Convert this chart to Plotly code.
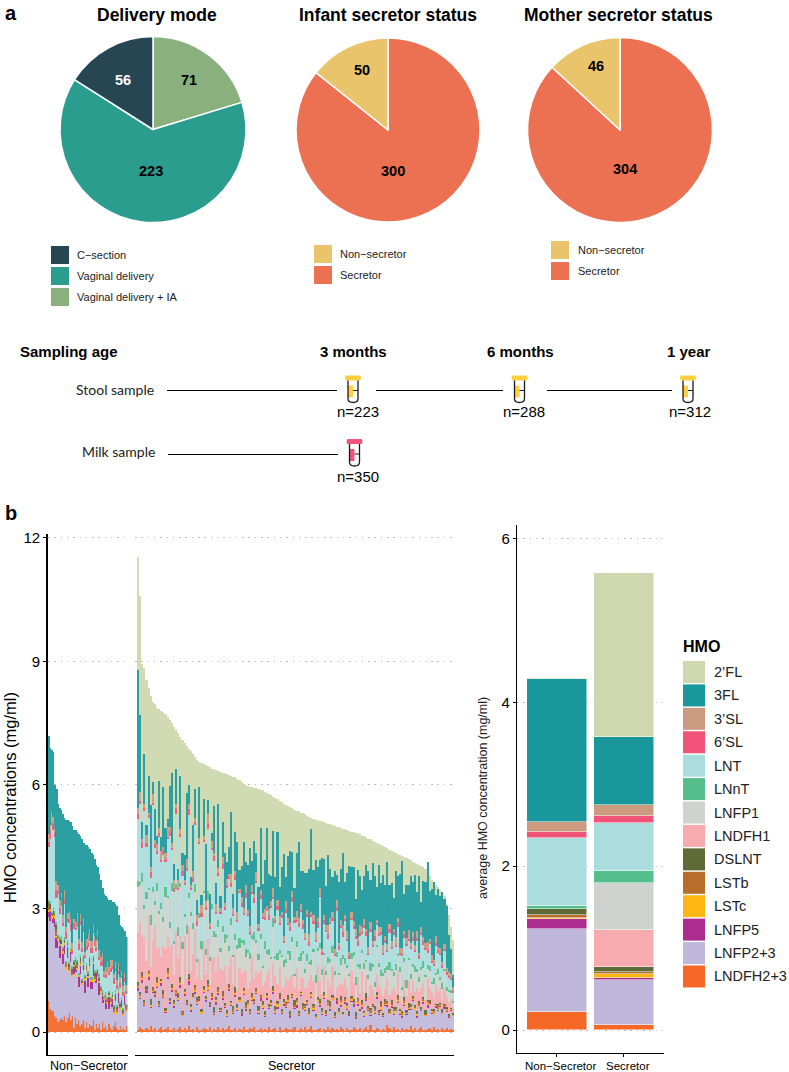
import plotly.graph_objects as go

W = 789
H = 1072
FONT = "Liberation Sans"

# pie charts
delivery_labels = ["Vaginal delivery + IA", "Vaginal delivery", "C\u2212section"]
delivery_values = [71, 223, 56]
infant_labels = ["Secretor", "Non\u2212secretor"]
infant_values = [300, 50]
mother_labels = ["Secretor", "Non\u2212secretor"]
mother_values = [304, 46]

hmo_names = ["2\u2019FL", "3FL", "3\u2019SL", "6\u2019SL", "LNT", "LNnT", "LNFP1", "LNDFH1", "DSLNT",
             "LSTb", "LSTc", "LNFP5", "LNFP2+3", "LNDFH2+3"]
hmo_colors = ["#CDD8AE", "#1A979B", "#CB9A7F", "#F25479", "#ABDDDE", "#55BF8B", "#CFD3CE", "#F7ABAE",
              "#5E6B37", "#B96D2B", "#FDB714", "#AD2C90", "#BFB8DB", "#F46724"]

# average concentration, same order as hmo_names (mg/ml)
avg_non_secretor = [0.006, 1.743, 0.13, 0.067, 0.828, 0.036, 0.003, 0.003, 0.066, 0.042, 0.012, 0.124, 1.009, 0.223]
avg_secretor = [2.005, 0.837, 0.132, 0.082, 0.592, 0.138, 0.579, 0.451, 0.064, 0.026, 0.043, 0.021, 0.558, 0.056]

# per sample values in 1/100 mg/ml
# Non-Secretor
ns_total = [720, 690, 685, 680, 600, 590, 555, 545, 540, 530,
            520, 515, 515, 512, 510, 500, 490, 490, 485, 480,
            475, 470, 460, 455, 455, 450, 445, 435, 430, 420,
            405, 400, 385, 370, 350, 335, 330, 325, 320, 320,
            315, 315, 310, 305, 285, 260, 255, 250, 245, 230]
ns_3sl = [20, 15, 25, 18, 12, 22, 15, 20, 10, 18,
          22, 12, 16, 20, 14, 18, 10, 15, 22, 12,
          18, 14, 20, 10, 16, 22, 12, 18, 15, 10,
          20, 14, 18, 12, 16, 10, 20, 14, 12, 18,
          15, 10, 16, 12, 20, 14, 10, 16, 12, 15]
ns_6sl = [12, 20, 8, 15, 10, 18, 6, 14, 20, 8,
          12, 16, 6, 10, 18, 8, 14, 6, 12, 16,
          8, 10, 15, 6, 12, 8, 16, 10, 6, 14,
          8, 12, 6, 10, 15, 6, 8, 12, 6, 10,
          8, 14, 6, 10, 7, 12, 6, 8, 10, 6]
ns_lnt = [130, 150, 210, 190, 180, 60, 100, 55, 75, 50,
          80, 55, 45, 95, 40, 30, 75, 65, 80, 55,
          75, 65, 55, 40, 30, 60, 40, 60, 55, 60,
          45, 70, 35, 50, 60, 45, 35, 60, 40, 60,
          55, 50, 45, 40, 35, 35, 45, 30, 25, 25]
ns_lnnt = [5, 8, 3, 6, 4, 7, 3, 5, 8, 4,
           6, 3, 7, 5, 4, 8, 3, 6, 4, 5,
           7, 3, 6, 4, 8, 5, 3, 7, 4, 6,
           3, 5, 8, 4, 6, 3, 5, 7, 3, 4,
           6, 3, 5, 4, 7, 3, 4, 5, 3, 3]
ns_dslnt = [8, 12, 0, 10, 0, 12, 5, 0, 11, 0,
            8, 0, 5, 7, 0, 6, 9, 0, 8, 0,
            6, 7, 0, 5, 0, 6, 8, 0, 5, 7,
            0, 5, 8, 0, 4, 0, 7, 0, 6, 0,
            5, 7, 0, 6, 0, 5, 0, 4, 0, 5]
ns_lstb = [10, 0, 7, 0, 8, 14, 0, 11, 0, 7,
           0, 12, 0, 8, 0, 7, 0, 6, 9, 0,
           7, 0, 13, 0, 10, 0, 9, 0, 6, 8,
           0, 6, 0, 7, 0, 3, 0, 6, 0, 9,
           0, 8, 0, 7, 0, 6, 0, 5, 0, 6]
ns_lstc = [5, 3, 7, 4, 6, 3, 8, 5, 3, 6,
           4, 7, 3, 5, 6, 4, 3, 7, 5, 3,
           6, 4, 3, 7, 5, 4, 6, 3, 5, 4,
           3, 6, 4, 5, 3, 2, 4, 3, 5, 3,
           4, 3, 5, 3, 4, 3, 2, 4, 3, 4]
ns_lnfp5 = [12, 25, 0, 15, 20, 25, 0, 30, 0, 25,
            22, 0, 28, 0, 25, 0, 20, 18, 0, 25,
            20, 0, 15, 28, 0, 22, 0, 18, 30, 0,
            25, 0, 30, 0, 18, 0, 25, 0, 30, 0,
            22, 0, 18, 0, 25, 0, 20, 0, 25, 0]
ns_lnfp23 = [205, 215, 225, 215, 215, 170, 195, 150, 175, 135,
             150, 125, 145, 100, 140, 95, 130, 110, 130, 80,
             125, 95, 120, 85, 120, 100, 135, 90, 105, 120,
             100, 120, 70, 90, 45, 70, 40, 65, 35, 60,
             55, 30, 50, 35, 65, 40, 55, 30, 60, 35]
ns_lndfh23 = [75, 55, 50, 50, 40, 35, 25, 30, 35, 30,
              40, 25, 35, 45, 30, 40, 10, 35, 20, 30,
              15, 20, 30, 10, 25, 10, 20, 15, 30, 5,
              20, 10, 20, 5, 25, 10, 15, 5, 20, 10,
              5, 15, 25, 10, 5, 15, 5, 10, 5, 15]

# Secretor
s_total = [1153, 1060, 895, 884, 855, 835, 815, 802, 797, 788,
           784, 780, 777, 772, 766, 758, 750, 741, 733, 726,
           716, 709, 703, 694, 688, 682, 676, 668, 661, 657,
           654, 651, 648, 645, 643, 640, 638, 636, 634, 632,
           630, 628, 626, 624, 622, 620, 619, 615, 612, 608,
           602, 600, 598, 596, 594, 593, 592, 590, 589, 587,
           584, 581, 578, 575, 572, 569, 566, 562, 558, 555,
           552, 549, 546, 543, 540, 538, 536, 533, 531, 529,
           525, 522, 520, 518, 516, 514, 513, 512, 510, 508,
           506, 505, 503, 501, 499, 497, 495, 494, 492, 490,
           489, 487, 486, 484, 483, 480, 477, 475, 473, 470,
           468, 465, 462, 460, 457, 455, 452, 450, 447, 443,
           440, 437, 435, 432, 430, 427, 425, 422, 420, 417,
           414, 411, 409, 406, 403, 400, 397, 390, 380, 370,
           364, 358, 352, 345, 338, 330, 310, 285, 255, 223]
s_3fl = [335, 188, 40, 120, 25, 90, 150, 30, 75, 20,
         115, 35, 145, 60, 20, 100, 170, 40, 85, 25,
         130, 30, 60, 160, 45, 20, 110, 70, 35, 125,
         25, 90, 140, 35, 70, 20, 115, 50, 155, 30,
         85, 120, 40, 65, 150, 35, 95, 170, 45, 75,
         160, 55, 110, 190, 60, 130, 45, 90, 150, 70,
         120, 190, 85, 60, 140, 95, 165, 70, 110, 200,
         60, 150, 175, 95, 70, 140, 185, 80, 120, 145,
         90, 160, 200, 110, 175, 125, 70, 220, 135, 95,
         170, 120, 85, 190, 60, 150, 125, 175, 80, 140,
         210, 110, 130, 75, 165, 120, 90, 105, 155, 185,
         100, 190, 130, 80, 150, 105, 170, 125, 200, 95,
         140, 75, 160, 100, 180, 210, 90, 130, 110, 165,
         120, 170, 95, 185, 60, 135, 150, 195, 115, 160,
         190, 100, 140, 125, 170, 110, 150, 90, 60, 30]
s_3sl = [15, 20, 8, 12, 18, 6, 14, 22, 9, 16,
         11, 20, 7, 15, 24, 10, 13, 18, 8, 21,
         12, 16, 9, 23, 14, 7, 19, 11, 15, 10,
         18, 8, 13, 22, 10, 16, 7, 20, 12, 9,
         17, 11, 14, 8, 21, 13, 10, 18, 7, 15,
         12, 20, 9, 14, 16, 8, 22, 11, 13, 10,
         18, 7, 15, 12, 20, 9, 14, 17, 8, 11,
         19, 13, 10, 16, 8, 22, 12, 15, 9, 14,
         11, 18, 7, 13, 20, 10, 16, 8, 14, 12,
         21, 9, 15, 11, 18, 7, 13, 16, 10, 20,
         8, 14, 12, 17, 9, 19, 11, 15, 7, 13,
         18, 10, 14, 8, 16, 12, 20, 9, 13, 11,
         15, 7, 18, 12, 10, 16, 8, 14, 20, 9,
         13, 11, 17, 7, 15, 10, 12, 18, 8, 14,
         11, 16, 9, 13, 7, 12, 10, 8, 9, 10]
s_6sl = [12, 8, 15, 5, 10, 6, 14, 4, 9, 7,
         11, 5, 13, 8, 3, 12, 6, 9, 15, 4,
         8, 11, 5, 7, 13, 4, 9, 6, 12, 3,
         10, 5, 8, 14, 4, 7, 11, 5, 9, 3,
         12, 6, 8, 4, 10, 5, 13, 7, 3, 9,
         6, 11, 4, 8, 5, 12, 3, 7, 10, 4,
         9, 5, 13, 3, 6, 8, 11, 4, 7, 5,
         10, 3, 8, 12, 4, 6, 9, 5, 11, 3,
         7, 10, 4, 8, 5, 13, 3, 6, 9, 4,
         11, 5, 7, 3, 8, 10, 4, 12, 6, 3,
         9, 5, 8, 4, 11, 6, 3, 7, 10, 4,
         8, 5, 12, 3, 6, 9, 4, 7, 5, 10,
         3, 8, 6, 11, 4, 5, 9, 3, 7, 5,
         10, 4, 6, 8, 3, 9, 5, 7, 4, 6,
         3, 8, 5, 4, 7, 3, 6, 4, 5, 4]
s_lnt = [150, 190, 60, 230, 110, 170, 90, 200, 130, 70,
         180, 100, 150, 60, 140, 210, 80, 120, 170, 90,
         110, 160, 70, 130, 190, 55, 100, 145, 80, 170,
         60, 120, 95, 150, 70, 130, 170, 50, 105, 85,
         140, 60, 115, 165, 75, 95, 130, 55, 110, 80,
         60, 125, 85, 45, 100, 70, 140, 55, 85, 115,
         50, 95, 70, 120, 45, 80, 105, 60, 90, 40,
         110, 65, 50, 85, 125, 45, 75, 100, 55, 70,
         90, 40, 105, 60, 80, 50, 115, 35, 70, 95,
         45, 85, 60, 40, 100, 55, 75, 45, 90, 60,
         35, 80, 55, 95, 45, 70, 40, 85, 60, 50,
         75, 40, 100, 50, 65, 85, 45, 60, 35, 70,
         50, 90, 40, 65, 30, 75, 50, 85, 40, 60,
         55, 35, 70, 45, 80, 40, 60, 30, 55, 45,
         30, 65, 40, 55, 35, 45, 30, 30, 25, 20]
s_lnnt = [15, 8, 22, 10, 18, 6, 25, 12, 9, 20,
          7, 16, 11, 24, 5, 14, 19, 8, 13, 21,
          10, 17, 6, 23, 12, 9, 15, 20, 7, 11,
          18, 5, 14, 22, 8, 12, 16, 6, 19, 10,
          13, 21, 7, 11, 17, 5, 15, 9, 24, 8,
          12, 18, 6, 14, 10, 20, 7, 16, 11, 5,
          19, 9, 13, 6, 22, 8, 15, 11, 5, 17,
          10, 7, 20, 12, 5, 14, 9, 18, 6, 11,
          16, 5, 13, 8, 21, 7, 11, 15, 5, 10,
          14, 6, 19, 9, 12, 5, 17, 8, 13, 7,
          5, 15, 10, 20, 6, 12, 8, 16, 5, 11,
          18, 7, 13, 5, 10, 15, 6, 12, 9, 20,
          6, 11, 16, 5, 14, 8, 10, 18, 5, 12,
          9, 15, 6, 12, 7, 17, 5, 10, 13, 6,
          14, 5, 11, 7, 15, 6, 9, 5, 8, 4]
s_lnfp1 = [110, 90, 130, 70, 150, 60, 100, 120, 50, 140,
           80, 115, 60, 125, 95, 45, 130, 75, 105, 55,
           120, 85, 50, 110, 70, 135, 60, 90, 40, 100,
           75, 115, 45, 95, 60, 120, 50, 85, 70, 40,
           95, 55, 110, 40, 80, 65, 35, 100, 50, 75,
           60, 35, 85, 55, 40, 95, 70, 30, 75, 45,
           80, 50, 35, 70, 90, 40, 60, 30, 75, 50,
           35, 65, 45, 80, 30, 55, 70, 40, 60, 35,
           65, 40, 25, 70, 50, 35, 80, 45, 30, 55,
           40, 60, 30, 50, 75, 25, 45, 65, 35, 50,
           55, 30, 65, 40, 25, 60, 45, 70, 30, 40,
           35, 55, 25, 65, 45, 30, 50, 40, 20, 60,
           45, 25, 55, 35, 60, 30, 40, 20, 50, 35,
           30, 50, 40, 25, 45, 35, 55, 25, 40, 20,
           35, 25, 45, 20, 30, 40, 15, 25, 15, 10]
s_lndfh1 = [120, 170, 90, 150, 60, 135, 80, 110, 160, 70,
            130, 55, 105, 145, 75, 125, 95, 60, 140, 85,
            100, 65, 125, 50, 115, 80, 95, 135, 45, 90,
            70, 110, 55, 100, 40, 85, 120, 60, 75, 95,
            50, 90, 65, 40, 105, 55, 80, 35, 70, 85,
            45, 75, 30, 65, 90, 50, 40, 80, 60, 35,
            70, 45, 85, 30, 55, 75, 40, 65, 50, 30,
            60, 35, 80, 45, 30, 70, 50, 35, 60, 40,
            30, 65, 40, 55, 25, 75, 45, 35, 60, 30,
            50, 35, 70, 40, 25, 55, 30, 65, 45, 35,
            30, 60, 40, 25, 50, 35, 70, 30, 45, 25,
            55, 35, 20, 45, 60, 30, 40, 25, 55, 35,
            25, 50, 35, 60, 30, 20, 45, 35, 55, 25,
            40, 30, 55, 20, 45, 35, 25, 50, 30, 40,
            25, 45, 30, 35, 20, 40, 25, 30, 20, 15]
s_dslnt = [7, 3, 10, 4, 8, 2, 12, 5, 3, 9,
           6, 2, 11, 4, 7, 3, 9, 5, 2, 8,
           10, 3, 6, 4, 12, 2, 7, 5, 9, 3,
           4, 8, 2, 10, 6, 3, 11, 4, 7, 2,
           9, 5, 3, 8, 2, 6, 12, 4, 3, 7,
           5, 10, 2, 6, 8, 3, 4, 11, 2, 7,
           9, 3, 5, 2, 10, 6, 4, 8, 3, 5,
           2, 9, 7, 3, 11, 4, 6, 2, 8, 5,
           3, 10, 4, 7, 2, 6, 9, 3, 5, 8,
           2, 11, 4, 6, 3, 7, 10, 2, 5, 4,
           8, 3, 6, 9, 2, 5, 7, 3, 11, 4,
           6, 2, 8, 5, 3, 10, 4, 7, 2, 6,
           9, 3, 5, 8, 2, 4, 7, 3, 10, 5,
           2, 6, 4, 8, 3, 5, 9, 2, 4, 3,
           7, 2, 5, 3, 6, 2, 4, 3, 2, 3]
s_lstb = [4, 6, 2, 5, 3, 7, 1, 4, 2, 6,
          3, 1, 5, 2, 8, 3, 1, 4, 6, 2,
          3, 7, 1, 5, 2, 4, 1, 6, 3, 2,
          5, 1, 3, 7, 2, 4, 1, 3, 5, 2,
          6, 1, 4, 2, 3, 8, 1, 5, 2, 3,
          1, 4, 6, 2, 3, 1, 7, 2, 4, 3,
          1, 5, 2, 3, 1, 6, 4, 2, 3, 1,
          7, 2, 4, 1, 3, 5, 2, 1, 6, 3,
          2, 4, 1, 3, 5, 1, 2, 7, 3, 1,
          4, 2, 5, 1, 3, 2, 6, 1, 4, 3,
          1, 5, 2, 3, 7, 1, 4, 2, 3, 1,
          6, 2, 4, 1, 3, 5, 1, 2, 4, 3,
          1, 7, 2, 3, 1, 4, 6, 2, 1, 3,
          5, 1, 2, 4, 1, 3, 2, 5, 1, 2,
          3, 1, 4, 2, 1, 3, 1, 2, 1, 1]
s_lstc = [5, 2, 7, 3, 1, 4, 6, 2, 3, 8,
          2, 5, 1, 4, 6, 2, 3, 7, 1, 4,
          6, 2, 5, 1, 3, 8, 2, 4, 6, 1,
          3, 5, 2, 7, 1, 4, 3, 6, 2, 5,
          1, 3, 8, 2, 4, 1, 6, 3, 5, 2,
          7, 1, 4, 2, 6, 3, 1, 5, 2, 8,
          3, 4, 1, 6, 2, 5, 7, 1, 3, 4,
          2, 6, 1, 5, 3, 8, 2, 4, 1, 6,
          3, 2, 7, 4, 1, 5, 2, 3, 6, 1,
          4, 8, 2, 5, 1, 3, 6, 2, 4, 7,
          1, 3, 5, 2, 6, 1, 4, 8, 2, 3,
          5, 1, 7, 3, 2, 6, 1, 4, 5, 2,
          3, 6, 1, 4, 8, 2, 5, 3, 1, 6,
          2, 4, 7, 1, 3, 5, 2, 6, 1, 3,
          4, 2, 5, 1, 3, 2, 4, 1, 2, 1]
s_lnfp5 = [6, 3, 8, 2, 5, 10, 1, 4, 7, 2,
           3, 9, 2, 1, 6, 4, 8, 2, 5, 3,
           7, 1, 4, 2, 9, 3, 1, 6, 2, 5,
           1, 3, 8, 2, 1, 5, 2, 7, 3, 1,
           4, 2, 1, 6, 3, 1, 5, 2, 1, 4,
           2, 7, 1, 3, 1, 5, 2, 1, 8, 2,
           1, 4, 2, 1, 6, 1, 3, 2, 1, 5,
           2, 1, 4, 1, 3, 7, 1, 2, 1, 3,
           5, 1, 2, 4, 1, 1, 6, 2, 1, 3,
           1, 4, 1, 2, 8, 1, 3, 1, 5, 2,
           1, 2, 6, 1, 3, 1, 4, 2, 1, 5,
           1, 3, 1, 7, 2, 1, 4, 1, 2, 1,
           5, 2, 1, 3, 1, 6, 1, 2, 4, 1,
           2, 1, 5, 1, 3, 2, 1, 7, 1, 2,
           1, 4, 1, 2, 1, 5, 1, 3, 1, 1]
s_lnfp23 = [95, 70, 110, 60, 85, 120, 45, 90, 75, 105,
            55, 100, 80, 40, 115, 65, 90, 50, 85, 70,
            95, 35, 80, 60, 100, 45, 75, 90, 55, 70,
            40, 85, 65, 95, 50, 75, 35, 60, 80, 45,
            70, 55, 30, 85, 60, 40, 75, 50, 65, 35,
            80, 45, 60, 35, 70, 55, 90, 40, 65, 50,
            30, 75, 45, 60, 85, 35, 55, 70, 40, 60,
            50, 65, 30, 75, 45, 55, 35, 80, 50, 40,
            60, 35, 70, 45, 30, 65, 50, 40, 75, 35,
            55, 45, 70, 30, 60, 40, 50, 35, 65, 45,
            35, 70, 50, 25, 60, 40, 55, 30, 65, 45,
            25, 55, 40, 70, 35, 50, 30, 60, 45, 35,
            55, 30, 45, 65, 40, 25, 60, 35, 50, 40,
            70, 45, 30, 55, 40, 65, 35, 50, 60, 40,
            30, 55, 45, 60, 35, 50, 40, 30, 45, 35]
s_lndfh23 = [5, 12, 8, 4, 10, 6, 14, 5, 9, 3,
             7, 11, 4, 8, 13, 5, 6, 10, 3, 7,
             12, 4, 9, 6, 15, 5, 8, 3, 11, 6,
             4, 10, 7, 5, 13, 3, 8, 6, 12, 4,
             9, 5, 7, 14, 4, 6, 10, 3, 8, 5,
             11, 6, 4, 9, 7, 12, 3, 5, 10, 6,
             8, 4, 13, 5, 7, 9, 3, 11, 6, 4,
             10, 7, 5, 8, 12, 3, 6, 9, 4, 11,
             5, 7, 14, 6, 4, 8, 10, 3, 7, 5,
             12, 6, 9, 4, 8, 5, 13, 7, 3, 10,
             6, 4, 11, 8, 5, 9, 3, 7, 12, 5,
             16, 6, 4, 10, 8, 3, 7, 5, 18, 9,
             4, 12, 6, 7, 3, 10, 5, 8, 4, 14,
             6, 9, 3, 7, 11, 5, 4, 8, 10, 6,
             12, 5, 7, 3, 9, 6, 10, 4, 8, 5]


def px_x(v):
    return v / W


def px_y(v):
    return 1 - v / H


def dom_x(a, b):
    return [px_x(a), px_x(b)]


def dom_y(top, bottom):
    return [px_y(bottom), px_y(top)]


def text(fig, s, x, y, size, bold=False, color="black", anchor="left", angle=0, family=FONT):
    if bold:
        s = "<b>" + s + "</b>"
    fig.add_annotation(text=s, x=px_x(x), y=px_y(y), xref="paper", yref="paper", showarrow=False,
                       xanchor=anchor, yanchor="middle", textangle=angle, borderpad=0, borderwidth=0,
                       font=dict(family=family, size=size, color=color))


def box(fig, x0, y0, x1, y1, color):
    fig.add_shape(type="rect", xref="paper", yref="paper", x0=px_x(x0), x1=px_x(x1), y0=px_y(y0), y1=px_y(y1),
                  fillcolor=color, line=dict(width=0))


def hline(fig, x0, x1, y, width=1.2):
    fig.add_shape(type="line", xref="paper", yref="paper", x0=px_x(x0), x1=px_x(x1), y0=px_y(y), y1=px_y(y),
                  line=dict(color="black", width=width))


def pt(x, y):
    return f"{px_x(x):.5f},{px_y(y):.5f}"


# kleines Röhrchen aus Shapes
def tube(fig, cx, top, color):
    l, r = cx - 5, cx + 5
    bottom = top + 27
    cap = (f"M {pt(l - 2, top)} L {pt(r + 2, top)} Q {pt(r + 4, top + 2.5)} {pt(r + 2, top + 5)} "
           f"L {pt(l - 2, top + 5)} Q {pt(l - 4, top + 2.5)} {pt(l - 2, top)} Z")
    fill = (f"M {pt(l, top + 10)} L {pt(cx, top + 10)} L {pt(cx, top + 22)} L {pt(l, top + 22)} Z")
    body = (f"M {pt(l, top + 5)} L {pt(l, bottom - 4)} Q {pt(l, bottom)} {pt(cx, bottom)} "
            f"Q {pt(r, bottom)} {pt(r, bottom - 4)} L {pt(r, top + 5)}")
    mid = f"M {pt(cx, top + 15)} L {pt(r, top + 15)}"
    fig.add_shape(type="path", xref="paper", yref="paper", path=cap, fillcolor=color, line=dict(width=0))
    fig.add_shape(type="path", xref="paper", yref="paper", path=fill, fillcolor=color, line=dict(width=0))
    fig.add_shape(type="path", xref="paper", yref="paper", path=body, line=dict(color="#1a1a1a", width=1.3))
    fig.add_shape(type="path", xref="paper", yref="paper", path=mid, line=dict(color="#1a1a1a", width=1))


def add_pie(fig, labels, values, colors, cx, cy, r):
    fig.add_trace(go.Pie(labels=labels, values=values, sort=False, direction="clockwise", rotation=0,
                         textinfo="none", showlegend=False, marker=dict(colors=colors, line=dict(color="white", width=1.5)),
                         domain=dict(x=dom_x(cx - r, cx + r), y=dom_y(cy - r, cy + r))))


fig = go.Figure()

# Panel a: Kreisdiagramme
add_pie(fig, delivery_labels, delivery_values, ["#8AB17D", "#2A9D8F", "#264653"], 153, 129.5, 93)
add_pie(fig, infant_labels, infant_values, ["#EC7153", "#E9C46A"], 388, 130, 92)
add_pie(fig, mother_labels, mother_values, ["#EC7153", "#E9C46A"], 620, 130, 92.5)

text(fig, "a", 5, 13, 20, bold=True)
text(fig, "b", 5, 513, 20, bold=True)
text(fig, "Delivery mode", 157, 15, 17.5, bold=True, anchor="center")
text(fig, "Infant secretor status", 388, 15, 17.5, bold=True, anchor="center")
text(fig, "Mother secretor status", 618, 15, 17.5, bold=True, anchor="center")

text(fig, str(delivery_values[2]), 123, 80, 14.5, bold=True, color="white", anchor="center")
text(fig, str(delivery_values[0]), 189, 80, 14.5, bold=True, anchor="center")
text(fig, str(delivery_values[1]), 151, 171, 14.5, bold=True, anchor="center")
text(fig, str(infant_values[1]), 362, 70, 14.5, bold=True, anchor="center")
text(fig, str(infant_values[0]), 393, 171, 14.5, bold=True, anchor="center")
text(fig, str(mother_values[1]), 596, 66, 14.5, bold=True, anchor="center")
text(fig, str(mother_values[0]), 625, 169, 14.5, bold=True, anchor="center")

# Legenden der Kreisdiagramme
for y0, color, label in [(246, "#264653", "C\u2212section"), (267, "#2A9D8F", "Vaginal delivery"),
                         (288, "#8AB17D", "Vaginal delivery + IA")]:
    box(fig, 51, y0, 69, y0 + 18, color)
    text(fig, label, 77, y0 + 9, 11, color="#222222")
for y0, color, label in [(245, "#E9C46A", "Non\u2212secretor"), (266, "#EC7153", "Secretor")]:
    box(fig, 314, y0, 332, y0 + 18, color)
    text(fig, label, 340, y0 + 9, 11, color="#222222")
for y0, color, label in [(241, "#E9C46A", "Non\u2212secretor"), (262, "#EC7153", "Secretor")]:
    box(fig, 551, y0, 569, y0 + 18, color)
    text(fig, label, 578, y0 + 9, 11, color="#222222")

# Zeitstrahl
text(fig, "Sampling age", 20, 351, 15, bold=True)
text(fig, "3 months", 353, 351, 15, bold=True, anchor="center")
text(fig, "6 months", 520, 351, 15, bold=True, anchor="center")
text(fig, "1 year", 689, 351, 15, bold=True, anchor="center")
text(fig, "Stool sample", 154, 389, 14, anchor="right", family="Lato", color="#222222")
text(fig, "Milk sample", 155, 452, 14, anchor="right", family="Lato", color="#222222")
hline(fig, 167, 337, 390.5)
hline(fig, 376, 503, 390.5)
hline(fig, 547, 672, 390.5)
hline(fig, 168, 338, 454.5)
tube(fig, 353, 375.5, "#FFCF3F")
tube(fig, 519.5, 375.5, "#FFCF3F")
tube(fig, 688, 375.5, "#FFCF3F")
tube(fig, 354.5, 439, "#F25479")
text(fig, "n=223", 358, 412, 15, anchor="center")
text(fig, "n=288", 524, 412, 15, anchor="center")
text(fig, "n=312", 690, 412, 15, anchor="center")
text(fig, "n=350", 358, 476, 15, anchor="center")

# Panel b: gestapelte Balken je Probe, von unten nach oben
ns_stack = [("LNDFH2+3", ns_lndfh23), ("LNFP2+3", ns_lnfp23), ("LNFP5", ns_lnfp5), ("LSTc", ns_lstc),
            ("LSTb", ns_lstb), ("DSLNT", ns_dslnt), ("LNnT", ns_lnnt), ("LNT", ns_lnt),
            ("6\u2019SL", ns_6sl), ("3\u2019SL", ns_3sl)]
s_stack = [("LNDFH2+3", s_lndfh23), ("LNFP2+3", s_lnfp23), ("LNFP5", s_lnfp5), ("LSTc", s_lstc),
           ("LSTb", s_lstb), ("DSLNT", s_dslnt), ("LNDFH1", s_lndfh1), ("LNFP1", s_lnfp1),
           ("LNnT", s_lnnt), ("LNT", s_lnt), ("6\u2019SL", s_6sl), ("3\u2019SL", s_3sl), ("3FL", s_3fl)]

color_of = dict(zip(hmo_names, hmo_colors))


def add_stack(fig, stack, total, top_name, xaxis, yaxis):
    n = len(total)
    rest = [t - sum(vals[i] for _, vals in stack) for i, t in enumerate(total)]
    rest = [max(v, 0) for v in rest]
    for name, vals in stack + [(top_name, rest)]:
        fig.add_trace(go.Bar(x=list(range(n)), y=[v / 100 for v in vals], name=name, width=1,
                             marker=dict(color=color_of[name], line=dict(width=0)), opacity=0.92,
                             showlegend=False, xaxis=xaxis, yaxis=yaxis))


add_stack(fig, ns_stack, ns_total, "3FL", "x", "y")
add_stack(fig, s_stack, s_total, "2\u2019FL", "x2", "y2")

# Mittelwerte rechts, gleiche Reihenfolge von unten nach oben
for i in range(len(hmo_names) - 1, -1, -1):
    fig.add_trace(go.Bar(x=[0, 1], y=[avg_non_secretor[i], avg_secretor[i]], name=hmo_names[i], width=0.9,
                         marker=dict(color=hmo_colors[i], line=dict(color="white", width=0.5)),
                         showlegend=False, xaxis="x3", yaxis="y3"))

# HMO Legende
text(fig, "HMO", 683, 646, 16, bold=True)
for i, name in enumerate(hmo_names):
    yc = 672 + i * 23.42
    box(fig, 683, yc - 11, 705, yc + 11, hmo_colors[i])
    text(fig, name, 714, yc, 14.5, color="#222222")

text(fig, "HMO concentrations (mg/ml)", 10, 798, 16.5, anchor="center", angle=-90)
text(fig, "average HMO concentration (mg/ml)", 483, 798, 12.5, anchor="center", angle=-90, color="#222222")
text(fig, "Non\u2212Secretor", 88, 1066, 12.5, anchor="center")
text(fig, "Secretor", 291, 1066, 12.5, anchor="center")
text(fig, "Non\u2212Secretor", 560, 1066, 11.5, anchor="center")
text(fig, "Secretor", 628, 1066, 11.5, anchor="center")

left_top, left_bottom = 534, 1055
left_range = [(1032 - left_bottom) / 41.17, (1032 - left_top) / 41.17]
right_top, right_bottom = 525, 1053
right_range = [(1030 - right_bottom) / 81.9, (1030 - right_top) / 81.9]
grid = dict(showgrid=True, gridcolor="#BDBDBD", griddash="1.5px,4.8px", gridwidth=1.2, zeroline=False)
tick_font = dict(family=FONT, size=15, color="black")

fig.update_layout(
    width=W, height=H, margin=dict(l=0, r=0, t=0, b=0, autoexpand=False), autosize=False,
    paper_bgcolor="white", plot_bgcolor="white", barmode="stack", bargap=0,
    xaxis=dict(domain=dom_x(48, 127.5), range=[-0.5, 49.5], anchor="y", showgrid=False, zeroline=False,
               showline=True, linecolor="black", linewidth=1.2, showticklabels=False, ticks=""),
    yaxis=dict(domain=dom_y(left_top, left_bottom), range=left_range, anchor="x", tickvals=[0, 3, 6, 9, 12],
               showline=True, linecolor="black", linewidth=1.6, ticks="outside", ticklen=3, tickcolor="black",
               tickfont=tick_font, **grid),
    xaxis2=dict(domain=dom_x(135, 454), range=[-1.45, 149.5], anchor="y2", showgrid=False, zeroline=False,
                showline=True, linecolor="black", linewidth=1.2, showticklabels=False, ticks=""),
    yaxis2=dict(domain=dom_y(left_top, left_bottom), range=left_range, anchor="x2", tickvals=[0, 3, 6, 9, 12],
                showticklabels=False, ticks="", **grid),
    xaxis3=dict(domain=dom_x(517, 663.5), range=[-0.6, 1.6], anchor="y3", showgrid=False, zeroline=False,
                showline=True, linecolor="black", linewidth=1.2, tickvals=[0, 1], showticklabels=False,
                ticks="outside", ticklen=3, tickcolor="black"),
    yaxis3=dict(domain=dom_y(right_top, right_bottom), range=right_range, anchor="x3", tickvals=[0, 2, 4, 6],
                showline=True, linecolor="black", linewidth=1.2, ticks="outside", ticklen=3, tickcolor="black",
                tickfont=tick_font, **grid),
)

fig.write_html("out.html", config=dict(displayModeBar=False), post_script="document.body.style.margin='0';")
